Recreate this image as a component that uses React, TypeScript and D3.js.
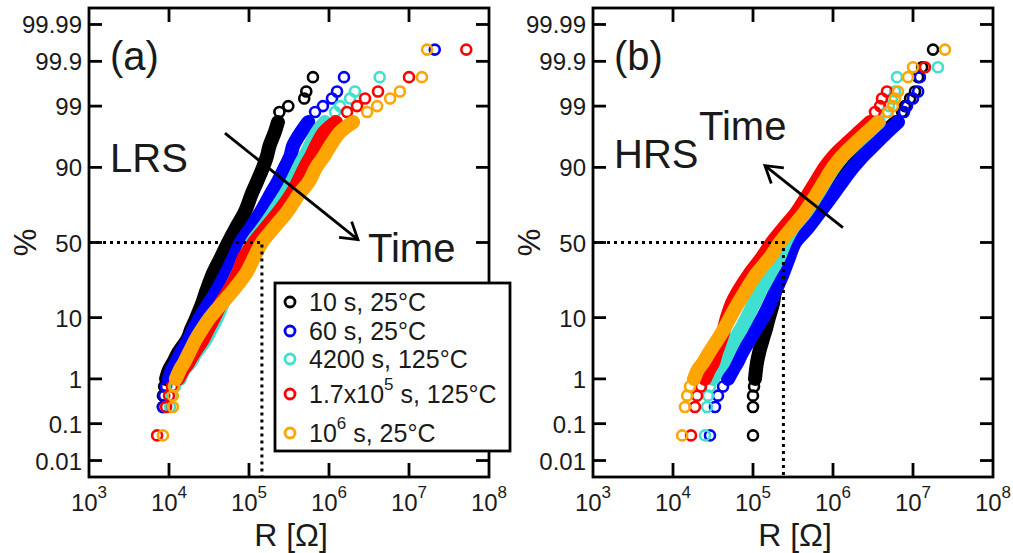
import React from 'react';
import * as d3 from 'd3';

// Cumulative probability levels (%) shared by every series
const PROB = [0.05, 0.25, 0.45, 0.7, 1, 1.5, 2, 3, 5, 7, 10, 15, 20, 30, 40, 50, 60, 70, 80, 85, 90, 93, 95, 97, 98, 98.7, 99, 99.3, 99.5, 99.76, 99.86, 99.95];

// LRS resistance (ohm) at each probability level
const LRS_10S = [null, 8.4e3, 8.4e3, 8.7e3, 9.2e3, 1.0e4, 1.12e4, 1.3e4, 1.7e4, 1.9e4, 2.2e4, 2.6e4, 2.9e4, 3.55e4, 4.47e4, 5.5e4, 6.9e4, 8.9e4, 1.09e5, 1.26e5, 1.5e5, 1.68e5, 1.8e5, 2.1e5, 2.3e5, 2.4e5, 3.1e5, 4.9e5, 5.2e5, 6.3e5, null, null];
const LRS_60S = [null, 8.4e3, 8.7e3, 9.2e3, 1.0e4, 1.09e4, 1.22e4, 1.41e4, 1.78e4, 2.05e4, 2.44e4, 3.16e4, 3.9e4, 5.2e4, 6.5e4, 7.9e4, 1.06e5, 1.41e5, 1.9e5, 2.3e5, 2.82e5, 3.3e5, 3.55e5, 4.47e5, 5.5e5, 6.7e5, 8.4e5, 1.09e6, 1.26e6, 1.54e6, null, 2.1e7];
const LRS_4200S = [null, 1.03e4, 1.09e4, 1.19e4, 1.37e4, 1.54e4, 1.83e4, 2.18e4, 2.9e4, 3.35e4, 3.98e4, 4.7e4, 5.6e4, 7.3e4, 8.9e4, 1.09e5, 1.5e5, 2.05e5, 2.9e5, 3.45e5, 4.2e5, 5.0e5, 5.8e5, 7.1e5, 8.9e5, 1.19e6, 1.37e6, 1.83e6, 2.11e6, 4.3e6, null, null];
const LRS_1P7E5S = [7.1e3, 9.2e3, 1.0e4, 1.09e4, 1.3e4, 1.5e4, 1.73e4, 2.05e4, 2.66e4, 3.07e4, 3.65e4, 4.47e4, 5.5e4, 7.3e4, 8.7e4, 1.16e5, 1.63e5, 2.37e5, 3.45e5, 4.1e5, 5.0e5, 6.0e5, 6.9e5, 8.7e5, 1.22e6, 1.68e6, 2.24e6, 2.82e6, 4.1e6, 1.0e7, null, 5.2e7];
const LRS_1E6S = [8.4e3, 1.12e4, 1.12e4, 1.15e4, 1.22e4, 1.37e4, 1.54e4, 1.78e4, 2.18e4, 2.6e4, 3.25e4, 4.6e4, 6.1e4, 9.2e4, 1.16e5, 1.45e5, 2.05e5, 3.0e5, 4.3e5, 5.6e5, 6.9e5, 8.7e5, 1.03e6, 1.37e6, 2.0e6, 3.0e6, 4.0e6, 5.8e6, 7.7e6, 1.45e7, null, 1.68e7];

// HRS resistance (ohm) at each probability level
const HRS_10S = [1.0e5, 1.0e5, 1.0e5, 1.03e5, 1.06e5, 1.09e5, 1.12e5, 1.19e5, 1.33e5, 1.45e5, 1.58e5, 1.78e5, 1.88e5, 2.3e5, 2.74e5, 3.16e5, 4.6e5, 6.5e5, 9.7e5, 1.22e6, 1.68e6, 2.24e6, 3.0e6, 4.47e6, 6.1e6, 7.3e6, 7.94e6, 9.2e6, 1.06e7, 1.16e7, 1.3e7, 1.78e7];
const HRS_60S = [2.9e4, 3.35e4, 3.65e4, 4.22e4, 4.87e4, 5.62e4, 6.31e4, 7.29e4, 9.17e4, 1.09e5, 1.33e5, 1.63e5, 1.88e5, 2.37e5, 2.82e5, 3.35e5, 4.87e5, 6.88e5, 1.03e6, 1.3e6, 1.78e6, 2.37e6, 3.16e6, 4.73e6, 6.49e6, 7.72e6, 8.41e6, 1.0e7, 1.16e7, 1.22e7, null, null];
const HRS_4200S = [2.51e4, 2.66e4, 2.74e4, 2.9e4, 3.16e4, 3.65e4, 4.22e4, 4.87e4, 5.96e4, 7.08e4, 8.41e4, 1.03e5, 1.22e5, 1.63e5, 2.11e5, 2.51e5, 3.16e5, 4.6e5, 6.5e5, 7.94e5, 1.03e6, 1.33e6, 1.78e6, 2.74e6, 3.76e6, 4.73e6, 5.0e6, 5.46e6, 5.96e6, 6.31e6, 2.05e7, null];
const HRS_1P7E5S = [1.68e4, 1.88e4, 2.0e4, 2.24e4, 2.51e4, 2.82e4, 3.16e4, 3.45e4, 3.98e4, 4.34e4, 4.73e4, 5.46e4, 6.49e4, 9.17e4, 1.3e5, 1.73e5, 2.44e5, 3.55e5, 5.0e5, 6.13e5, 7.94e5, 1.03e6, 1.37e6, 2.11e6, 2.9e6, 3.35e6, 3.87e6, 4.1e6, 4.73e6, null, 1.41e7, null];
const HRS_1E6S = [1.3e4, 1.41e4, 1.5e4, 1.63e4, 1.83e4, 2.05e4, 2.37e4, 2.82e4, 3.65e4, 4.34e4, 5.16e4, 6.49e4, 7.94e4, 1.12e5, 1.63e5, 2.18e5, 3.07e5, 4.47e5, 6.31e5, 7.72e5, 1.0e6, 1.3e6, 1.73e6, 2.66e6, 3.65e6, 4.87e6, 5.62e6, 5.96e6, 6.49e6, 8.66e6, 1.0e7, 2.51e7];

// Median resistances marked with dotted guide lines
const LRS_MEDIAN = 1.45e5;
const HRS_MEDIAN = 2.4e5;

// Trend arrows: [R, %] start and end
const LRS_ARROW = [[5.0e4, 96.9], [2.3e6, 52]];
const HRS_ARROW = [[1.33e6, 60], [1.41e5, 90.5]];

const SERIES_COLORS = ['#000000', '#0000ff', '#40e0d0', '#ff0000', '#ffa500'];
type Seg = { t: string; sup?: boolean };
const SERIES_LABELS: Seg[][] = [
  [{ t: '10 s, 25°C' }],
  [{ t: '60 s, 25°C' }],
  [{ t: '4200 s, 125°C' }],
  [{ t: '1.7x10' }, { t: '5', sup: true }, { t: ' s, 125°C' }],
  [{ t: '10' }, { t: '6', sup: true }, { t: ' s, 25°C' }],
];

const Y_TICKS = [0.01, 0.1, 1, 10, 50, 90, 99, 99.9, 99.99];
const Y_TICK_LABELS = ['0.01', '0.1', '1', '10', '50', '90', '99', '99.9', '99.99'];
const X_DECADES = [3, 4, 5, 6, 7, 8];

// Layout
const W = 1013;
const H = 553;
const PLOT_TOP = 8;
const PLOT_BOTTOM = 477;
const PLOT_W = 400;
const FONT = "'Liberation Sans', Arial, Helvetica, sans-serif";
const DENSE_LO = 1;
const DENSE_HI = 98;
const MARK_R = 5;
const MARK_W = 2.6;
const BAND_W = 14;
const LINE_W = 2.8;
const TEXT_COLOR = '#1a1a1a';

// Inverse standard normal CDF (Acklam's rational approximation)
function probit(p: number): number {
  const a = [-3.969683028665376e1, 2.209460984245205e2, -2.759285104469687e2, 1.38357751867269e2, -3.066479806614716e1, 2.506628277459239];
  const b = [-5.447609879822406e1, 1.615858368580409e2, -1.556989798598866e2, 6.680131188771972e1, -1.328068155288572e1];
  const c = [-7.784894002430293e-3, -3.223964580411365e-1, -2.400758277161838, -2.549671627496701, 4.374664141464968, 2.938163982698783];
  const d = [7.784695709041462e-3, 3.224671290700398e-1, 2.445134137142996, 3.754408661907416];
  const plow = 0.02425;
  if (p < plow) {
    const q = Math.sqrt(-2 * Math.log(p));
    return (((((c[0] * q + c[1]) * q + c[2]) * q + c[3]) * q + c[4]) * q + c[5]) / ((((d[0] * q + d[1]) * q + d[2]) * q + d[3]) * q + 1);
  }
  if (p <= 1 - plow) {
    const q = p - 0.5;
    const r = q * q;
    return ((((((a[0] * r + a[1]) * r + a[2]) * r + a[3]) * r + a[4]) * r + a[5]) * q) / (((((b[0] * r + b[1]) * r + b[2]) * r + b[3]) * r + b[4]) * r + 1);
  }
  const q = Math.sqrt(-2 * Math.log(1 - p));
  return -(((((c[0] * q + c[1]) * q + c[2]) * q + c[3]) * q + c[4]) * q + c[5]) / ((((d[0] * q + d[1]) * q + d[2]) * q + d[3]) * q + 1);
}

type PanelProps = {
  left: number;
  series: (number | null)[][];
  median: number;
  arrow: number[][];
  tag: string;
  state: string;
  stateY: number;
  timeX: number;
  timeY: number;
};

function Panel({ left, series, median, arrow, tag, state, stateY, timeX, timeY }: PanelProps) {
  const x = d3.scaleLog().domain([1e3, 1e8]).range([left, left + PLOT_W]);
  const z = d3.scaleLinear().domain([-4, 4]).range([PLOT_BOTTOM, PLOT_TOP]);
  const y = (p: number) => z(probit(p / 100));
  const right = left + PLOT_W;
  const tickLen = 13;

  const line = d3
    .line<[number, number]>()
    .x((d) => x(d[0]))
    .y((d) => y(d[1]))
    .curve(d3.curveCatmullRom.alpha(0.5));

  // arrow geometry
  const [ax0, ay0] = [x(arrow[0][0]), y(arrow[0][1])];
  const [ax1, ay1] = [x(arrow[1][0]), y(arrow[1][1])];
  const ang = Math.atan2(ay1 - ay0, ax1 - ax0);
  const headLen = 19;
  const spread = (32 * Math.PI) / 180;
  const h1 = [ax1 - headLen * Math.cos(ang - spread), ay1 - headLen * Math.sin(ang - spread)];
  const h2 = [ax1 - headLen * Math.cos(ang + spread), ay1 - headLen * Math.sin(ang + spread)];

  return (
    <g>
      {/* data */}
      {series.map((vals, si) => {
        const pts = PROB.map((p, i) => [vals[i], p] as [number | null, number]).filter((d) => d[0] != null) as [number, number][];
        const dense = pts.filter((d) => d[1] >= DENSE_LO && d[1] <= DENSE_HI);
        return (
          <g key={si}>
            <path d={line(dense) || ''} fill="none" stroke={SERIES_COLORS[si]} strokeWidth={BAND_W} strokeLinecap="round" strokeLinejoin="round" />
            {pts.map((d, i) => (
              <circle key={i} cx={x(d[0])} cy={y(d[1])} r={MARK_R} fill="none" stroke={SERIES_COLORS[si]} strokeWidth={MARK_W} />
            ))}
          </g>
        );
      })}

      {/* median guides */}
      <path
        d={`M${left},${y(50)}H${x(median)}V${PLOT_BOTTOM}`}
        fill="none"
        stroke="#000"
        strokeWidth={3}
        strokeDasharray="3 4"
      />

      {/* arrow */}
      <line x1={ax0} y1={ay0} x2={ax1} y2={ay1} stroke="#000" strokeWidth={LINE_W} />
      <polyline points={`${h1[0]},${h1[1]} ${ax1},${ay1} ${h2[0]},${h2[1]}`} fill="none" stroke="#000" strokeWidth={LINE_W} />

      {/* frame */}
      <rect x={left} y={PLOT_TOP} width={PLOT_W} height={PLOT_BOTTOM - PLOT_TOP} fill="none" stroke="#000" strokeWidth={LINE_W} />

      {/* y ticks */}
      {Y_TICKS.map((p, i) => (
        <g key={p}>
          <line x1={left} x2={left + tickLen} y1={y(p)} y2={y(p)} stroke="#000" strokeWidth={LINE_W} />
          <line x1={right - tickLen} x2={right} y1={y(p)} y2={y(p)} stroke="#000" strokeWidth={LINE_W} />
          <text x={left - 7} y={y(p) + 9} textAnchor="end" fontSize={24} fill={TEXT_COLOR}>
            {Y_TICK_LABELS[i]}
          </text>
        </g>
      ))}

      {/* x ticks */}
      {X_DECADES.map((e) => {
        const xv = x(Math.pow(10, e));
        const inner = e > X_DECADES[0] && e < X_DECADES[X_DECADES.length - 1];
        return (
          <g key={e}>
            {inner && (
              <>
                <line x1={xv} x2={xv} y1={PLOT_TOP} y2={PLOT_TOP + tickLen + 1} stroke="#000" strokeWidth={LINE_W} />
                <line x1={xv} x2={xv} y1={PLOT_BOTTOM} y2={PLOT_BOTTOM - tickLen - 1} stroke="#000" strokeWidth={LINE_W} />
              </>
            )}
            <text x={xv} y={511} textAnchor="middle" fontSize={24} fill={TEXT_COLOR}>
              <tspan>10</tspan>
              <tspan dy={-13} fontSize={17}>
                {e}
              </tspan>
            </text>
          </g>
        );
      })}

      {/* axis titles */}
      <text x={left + PLOT_W / 2 + 2} y={546} textAnchor="middle" fontSize={32} fill={TEXT_COLOR}>
        R [Ω]
      </text>
      <text transform={`translate(${left - 53},${y(50)}) rotate(-90)`} textAnchor="middle" fontSize={31} fill={TEXT_COLOR}>
        %
      </text>

      {/* annotations */}
      <text x={left + 21} y={70} fontSize={40} fill={TEXT_COLOR}>
        {tag}
      </text>
      <text x={left + 21} y={stateY} fontSize={40} fill={TEXT_COLOR}>
        {state}
      </text>
      <text x={left + timeX} y={timeY} fontSize={40} fill={TEXT_COLOR}>
        Time
      </text>
    </g>
  );
}

function Legend() {
  const bx = 275;
  const by = 283;
  const bw = 235;
  const bh = 168;
  const rows = [19, 48, 76, 111, 150];
  return (
    <g>
      <rect x={bx} y={by} width={bw} height={bh} fill="#fff" stroke="#000" strokeWidth={LINE_W} />
      {SERIES_LABELS.map((segs, i) => {
        const cy = by + rows[i];
        return (
          <g key={i}>
            <circle cx={bx + 15} cy={cy} r={MARK_R} fill="none" stroke={SERIES_COLORS[i]} strokeWidth={MARK_W + 0.2} />
            <text x={bx + 34} y={cy + 9} fontSize={25} fill={TEXT_COLOR}>
              {segs.map((s, k) =>
                s.sup ? (
                  <tspan key={k} dy={-13} fontSize={17}>
                    {s.t}
                  </tspan>
                ) : (
                  <tspan key={k} dy={k > 0 && segs[k - 1].sup ? 13 : 0}>
                    {s.t}
                  </tspan>
                )
              )}
            </text>
          </g>
        );
      })}
    </g>
  );
}

export default function App() {
  return (
    <svg width={W} height={H} style={{ position: 'absolute', left: 0, top: 0 }} fontFamily={FONT}>
      <rect width={W} height={H} fill="#fff" />
      <Panel
        left={89}
        series={[LRS_10S, LRS_60S, LRS_4200S, LRS_1P7E5S, LRS_1E6S]}
        median={LRS_MEDIAN}
        arrow={LRS_ARROW}
        tag="(a)"
        state="LRS"
        stateY={172}
        timeX={279}
        timeY={262}
      />
      <Panel
        left={593}
        series={[HRS_10S, HRS_60S, HRS_4200S, HRS_1P7E5S, HRS_1E6S]}
        median={HRS_MEDIAN}
        arrow={HRS_ARROW}
        tag="(b)"
        state="HRS"
        stateY={168}
        timeX={106}
        timeY={140}
      />
      <Legend />
    </svg>
  );
}
